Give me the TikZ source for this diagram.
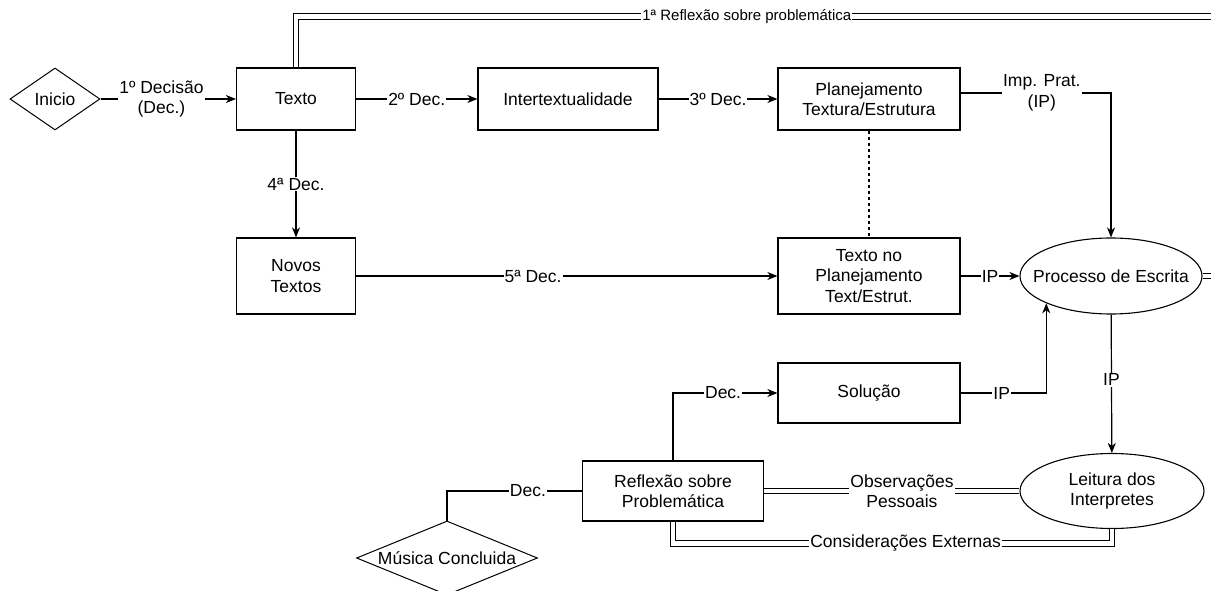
\documentclass[tikz,border=0pt]{standalone}
\usepackage{fontspec}
\setmainfont{Liberation Sans}
\usetikzlibrary{shapes.geometric,arrows.meta,calc}
\begin{document}
\begin{tikzpicture}[x=1pt,y=-1pt,
  every node/.style={font=\fontsize{17.5}{20.5}\selectfont, align=center},
  box/.style={draw, line width=1.2pt, rectangle, inner sep=0pt},
  ell/.style={draw, line width=1.1pt, ellipse},
  dia/.style={draw, line width=1pt, diamond},
  arr/.style={line width=1.2pt, -{Stealth[length=10pt,width=8pt,inset=3pt]}},
  ln/.style={line width=1.2pt},
  dbl/.style={line width=1.1pt, double, double distance=4.5pt},
  lbl/.style={fill=white, inner sep=1pt},
]
\useasboundingbox (0,0) rectangle (1211,591);

% nodes
\node[dia, minimum width=90pt, minimum height=62pt, aspect=1.45, inner sep=0pt] (inicio) at (55,99) {Inicio};
\node[box, minimum width=119pt, minimum height=62pt] (texto) at (296,99) {Texto};
\node[box, minimum width=180pt, minimum height=62pt] (inter) at (568,99) {Intertextualidade};
\node[box, minimum width=182pt, minimum height=62pt] (plan) at (869,99) {Planejamento\\Textura/Estrutura};
\node[box, minimum width=119pt, minimum height=76pt] (novos) at (296,276) {Novos\\Textos};
\node[box, minimum width=182pt, minimum height=76pt] (tnp) at (869,276) {Texto no\\Planejamento\\Text/Estrut.};
\node[ell, minimum width=182pt, minimum height=76pt, inner xsep=-50pt, inner ysep=-5pt] (proc) at (1111,276) {Processo de Escrita};
\node[box, minimum width=182pt, minimum height=60pt] (sol) at (869,393) {Solução};
\node[box, minimum width=181pt, minimum height=60pt] (refl) at (673,491) {Reflexão sobre\\Problemática};
\node[ell, minimum width=184pt, minimum height=75pt, inner xsep=-30pt, inner ysep=-12pt] (leit) at (1112,491) {Leitura dos\\Interpretes};
\node[dia, minimum width=181pt, minimum height=74pt, aspect=2.45, inner xsep=-25pt, inner ysep=-4pt] (mus) at (447,558) {Música Concluida};

\coordinate (topR) at (1216,16.5);
\coordinate (procR) at (1216,276);

% connectors
\draw[arr] (inicio) -- node[lbl,pos=0.45]{1º Decisão\\(Dec.)} (texto);
\draw[arr] (texto) -- node[lbl]{2º Dec.} (inter);
\draw[arr] (inter) -- node[lbl]{3º Dec.} (plan);
\draw[arr] ([yshift=6pt]plan.east) -| node[lbl,pos=0.27]{Imp. Prat.\\(IP)} (proc.north);
\draw[arr] (texto) -- node[lbl]{4ª Dec.} (novos);
\draw[arr] (novos) -- node[lbl,pos=0.42]{5ª Dec.} (tnp);
\draw[ln, dash pattern=on 3pt off 3pt] (plan) -- (tnp);
\draw[arr] (tnp) -- node[lbl]{IP} (proc);
\draw[arr] (sol.east) -| node[lbl,pos=0.24]{IP} (proc.south west);
\draw[arr] (refl.north) |- node[lbl,pos=0.74]{Dec.} (sol.west);
\draw[arr] (proc) -- node[lbl,pos=0.47]{IP} (leit);
\draw[ln] (refl.west) -| node[lbl,pos=0.2]{Dec.} (mus.north);
\draw[dbl] (refl.east) -- node[lbl,pos=0.54]{Observações\\Pessoais} (leit.west);
\draw[dbl] (refl.south) -- (refl.south |- 0,543.5) -- node[lbl,pos=0.53]{Considerações Externas} (leit.south |- 0,543.5) -- (leit.south);
\draw[dbl] (texto.north) |- node[lbl,pos=0.745,font=\fontsize{15}{17}\selectfont]{1ª Reflexão sobre problemática} (topR);
\draw[dbl] (proc.east) -- (procR);
\end{tikzpicture}
\end{document}
